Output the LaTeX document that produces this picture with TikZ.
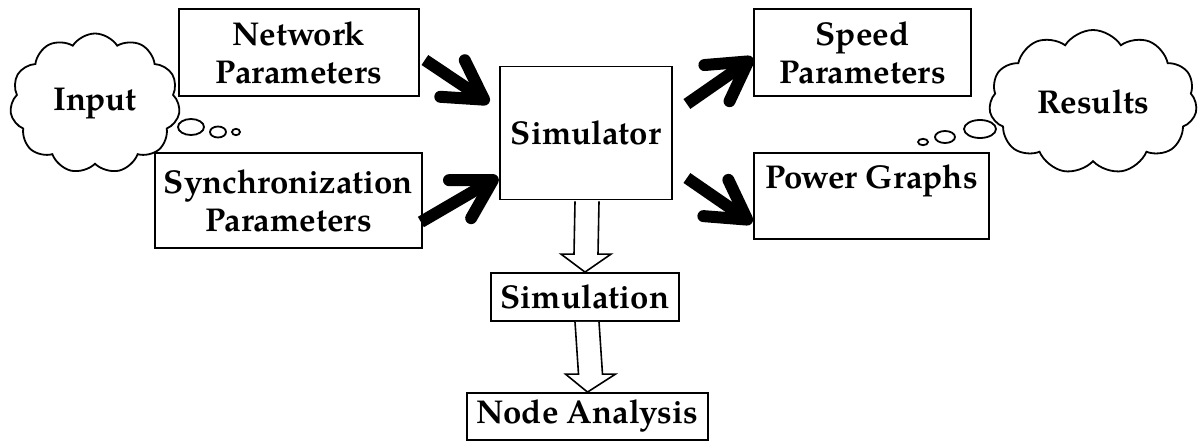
\documentclass[tikz,border=0pt]{standalone}
\usepackage{fontspec}
\setmainfont{TeX Gyre Pagella}
\usetikzlibrary{arrows.meta,shapes.symbols,calc}
\begin{document}
\begin{tikzpicture}[x=1pt,y=-1pt,
  lbl/.style={font=\fontsize{33}{38}\selectfont\bfseries},
  box/.style={draw, line width=1.8pt, align=center, inner sep=0pt, lbl},
  bigarrow/.style={line width=12pt, line cap=butt, -{Straight Barb[length=38pt,width=44pt,round]}},
  hollow/.style={draw, line width=1.6pt, fill=white, line join=miter},
  bubble/.style={draw, line width=1.8pt},
  thought/.style={cloud, cloud puffs=11, cloud puff arc=115, cloud ignores aspect, draw, line width=1.8pt, inner sep=0pt, lbl}
]
\useasboundingbox (0,0) rectangle (1198,441);

% boxes
\node[box, minimum width=240, minimum height=87] (net) at (299,52.5) {Network\\Parameters};
\node[box, minimum width=267, minimum height=95] (sync) at (288.5,200.5) {Synchronization\\Parameters};
\node[box, minimum width=172, minimum height=133] (sim) at (586,133) {Simulator};
\node[box, minimum width=217, minimum height=87] (speed) at (862.5,52.5) {Speed\\Parameters};
\node[box, minimum width=235, minimum height=86] (power) at (871.5,196) {Power Graphs\\\mbox{}};
\node[box, minimum width=188, minimum height=48] (simu) at (585,297) {Simulation};
\node[box, minimum width=241, minimum height=47] (nodean) at (587.5,416.5) {Node Analysis};

% clouds
\node[thought, minimum width=170, minimum height=140] (input) at (95,103.5) {Input};
\node[thought, minimum width=208, minimum height=144] (results) at (1093,102) {Results};

% thought bubbles
\draw[bubble] (191,127) ellipse [x radius=13, y radius=8] coordinate (ib1);
\draw[bubble] (218,132) ellipse [x radius=8, y radius=5.5] coordinate (ib2);
\draw[bubble] (236,132) ellipse [x radius=4, y radius=3.2] coordinate (ib3);
\draw[bubble] (980,129) ellipse [x radius=16, y radius=9] coordinate (rb1);
\draw[bubble] (945,137) ellipse [x radius=10, y radius=6] coordinate (rb2);
\draw[bubble] (923,142) ellipse [x radius=5, y radius=3.2] coordinate (rb3);

% thick arrows
\draw[bigarrow] ($(net.east)+(5,7.5)$) -- ($(sim.west)+(-10,-30)$);
\draw[bigarrow] ($(sync.east)+(-2,21.5)$) -- ($(sim.west)+(-1,44)$);
\draw[bigarrow] ($(sim.east)+(14,-29)$) -- ($(speed.west)+(0,5.5)$);
\draw[bigarrow] ($(sim.east)+(14,45)$) -- ($(power.west)+(-1,27)$);

% hollow arrows
\draw[hollow] ($(sim.south)+(-11,1)$) -- ($(simu.north)+(-11,-18)$) -- ($(simu.north)+(-24,-18)$) -- (simu.north)
  -- ($(simu.north)+(26,-18)$) -- ($(simu.north)+(13,-18)$) -- ($(sim.south)+(13,1)$);
\draw[hollow] ($(simu.south)+(-10,0)$) -- ($(nodean.north)+(-9,-18)$) -- ($(nodean.north)+(-22,-18)$) -- (nodean.north)
  -- ($(nodean.north)+(28,-18)$) -- ($(nodean.north)+(15,-18)$) -- ($(simu.south)+(14,0)$);
\end{tikzpicture}
\end{document}
